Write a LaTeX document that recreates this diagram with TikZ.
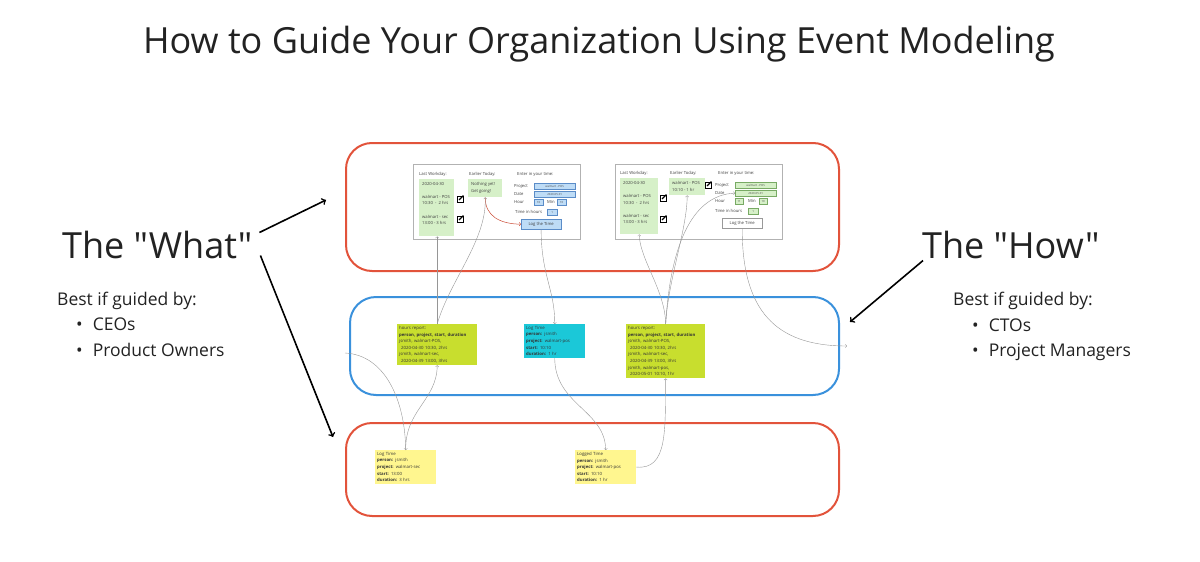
\documentclass[tikz,border=0pt]{standalone}
\usepackage{fontspec}
\setmainfont{Open Sans}[Ligatures=TeXOff]
\usepackage{tikz}
\usetikzlibrary{positioning}

\definecolor{framered}{RGB}{226,83,59}
\definecolor{frameblue}{RGB}{58,145,220}
\definecolor{lime}{RGB}{200,222,46}
\definecolor{cyanbox}{RGB}{27,200,216}
\definecolor{yellowbox}{RGB}{255,246,143}
\definecolor{panelgreen}{RGB}{214,240,200}
\definecolor{fieldblue}{RGB}{190,220,246}
\definecolor{fieldline}{RGB}{90,140,200}
\definecolor{fieldgreen}{RGB}{214,240,200}
\definecolor{fieldgline}{RGB}{120,170,100}
\definecolor{flowgray}{RGB}{150,150,150}
\definecolor{inkgray}{RGB}{34,34,34}

\tikzset{
  frame/.style={rounded corners=26pt, line width=2pt},
  wire/.style={draw=black!30, fill=white, line width=0.7pt},
  ui/.style={anchor=west, inner sep=0pt, font=\fontsize{4.2}{5}\selectfont, text=black!75},
  tiny/.style={inner sep=0pt, font=\fontsize{2.8}{3}\selectfont, text=black!70},
  panel/.style={anchor=north west, inner sep=0pt, fill=panelgreen},
  field/.style={anchor=north west, inner sep=0pt, fill=fieldblue, draw=fieldline, line width=0.3pt},
  gfield/.style={anchor=north west, inner sep=0pt, fill=fieldgreen, draw=fieldgline, line width=0.3pt},
  sticky/.style={anchor=north west, align=left, inner sep=2pt, font=\fontsize{4.3}{6.6}\selectfont, text=black!80},
  flow/.style={->, draw=flowgray, line width=0.4pt},
  big/.style={anchor=base west, inner sep=0pt, text=inkgray, font=\fontsize{36}{40}\selectfont},
  note/.style={anchor=base west, inner sep=0pt, text=inkgray, font=\fontsize{17.5}{20}\selectfont},
}

\begin{document}
\begin{tikzpicture}[x=1pt, y=-1pt]
  \useasboundingbox (0,0) rectangle (1200,562);

  \node[anchor=base, inner sep=0pt, text=inkgray, font=\fontsize{36}{40}\selectfont]
    (title) at (599,53) {How to Guide Your Organization Using Event Modeling};

  \node[big] (what) at (62,258) {The "What"};
  \node[note] (whatbest) at (57,305) {Best if guided by:};
  \node[note] (whatA) at (76,330) {\textbullet\hspace{10pt}CEOs};
  \node[note] (whatB) at (76,356) {\textbullet\hspace{10pt}Product Owners};

  \node[big] (how) at (922,258) {The "How"};
  \node[note] (howbest) at (953,305) {Best if guided by:};
  \node[note] (howA) at (972,331) {\textbullet\hspace{10pt}CTOs};
  \node[note] (howB) at (972,356) {\textbullet\hspace{10pt}Project Managers};

  \draw[framered, frame] (346,143) rectangle (839,271);
  \draw[frameblue, frame] (350,297) rectangle (839,395);
  \draw[framered, frame] (346,423) rectangle (839,516);

  \coordinate (whatup) at (326,200);
  \coordinate (whatdown) at (333,437);
  \coordinate (howdown) at (850,322);
  \draw[->, line width=1.6pt]
    ([shift={(7,-12)}]what.east)
    --
    (whatup);
  \draw[->, line width=1.6pt]
    ([shift={(8,11)}]what.east)
    --
    (whatdown);
  \draw[->, line width=1.6pt]
    ([shift={(1,2)}]how.south west)
    --
    (howdown);

  % first screen
  \node[wire, anchor=north west, minimum width=167, minimum height=75] (lw) at (413,164) {};
  \node[ui] (lwLast) at (419,174) {Last Workday:};
  \node[ui] (lwEarly) at (469,174) {Earlier Today:};
  \node[ui] (lwEnter) at (517,174) {Enter in your time:};
  \node[panel, minimum width=35, minimum height=57] (lwPanelA) at (419,179) {};
  \node[ui] (lwA1) at (422,184) {2020-04-30};
  \node[ui] (lwA2) at (422,197) {walmart - POS};
  \node[ui] (lwA3) at (422,203) {10:30 \ - \ 2 hrs};
  \node[ui] (lwA4) at (422,217) {walmart - sec};
  \node[ui] (lwA5) at (422,223) {13:00 - 3 hrs};
  \node[panel, minimum width=34, minimum height=18] (lwPanelB) at (468,179) {};
  \node[ui] (lwB1) at (471,184) {Nothing yet!};
  \node[ui] (lwB2) at (471,191) {Get going!};
  \node[ui] (lwProj) at (514,186) {Project};
  \node[ui] (lwDateL) at (514,194) {Date};
  \node[ui] (lwHourL) at (514,202) {Hour};
  \node[ui] (lwMinL) at (547,202) {Min};
  \node[ui] (lwTime) at (515,212) {Time in hours};
  \node[field, minimum width=41, minimum height=6] (lwProjF) at (534,183) {};
  \node[tiny] at (lwProjF) {walmart - POS};
  \node[field, minimum width=41, minimum height=6] (lwDate) at (534,191) {};
  \node[tiny] at (lwDate) {2020-05-01};
  \node[field, minimum width=9, minimum height=6] (lwHour) at (534,199) {};
  \node[tiny] at (lwHour) {10};
  \node[field, minimum width=9, minimum height=6] (lwMin) at (557,199) {};
  \node[tiny] at (lwMin) {10};
  \node[field, minimum width=10, minimum height=6] (lwHours) at (547,209) {};
  \node[tiny] at (lwHours) {1};
  \node[field, minimum width=40, minimum height=10] (lwButton) at (521,219) {};
  \node[ui, anchor=center] at (lwButton) {Log the Time};

  % second screen
  \node[wire, anchor=north west, minimum width=167, minimum height=75] (rw) at (615,164) {};
  \node[ui] (rwLast) at (620,173) {Last Workday:};
  \node[ui] (rwEarly) at (670,173) {Earlier Today:};
  \node[ui] (rwEnter) at (718,173) {Enter in your time:};
  \node[panel, minimum width=38, minimum height=56] (rwPanelA) at (620,178) {};
  \node[ui] (rwA1) at (623,183) {2020-04-30};
  \node[ui] (rwA2) at (623,196) {walmart - POS};
  \node[ui] (rwA3) at (623,203) {10:30 \ - \ 2 hrs};
  \node[ui] (rwA4) at (623,216) {walmart - sec};
  \node[ui] (rwA5) at (623,222) {13:00 - 3 hrs};
  \node[panel, minimum width=36, minimum height=17] (rwPanelB) at (669,178) {};
  \node[ui] (rwB1) at (672,183) {walmart - POS};
  \node[ui] (rwB2) at (672,190) {10:10 - 1 hr};
  \node[ui] (rwProj) at (715,185) {Project};
  \node[ui] (rwDateL) at (715,193) {Date};
  \node[ui] (rwHourL) at (715,201) {Hour};
  \node[ui] (rwMinL) at (748,201) {Min};
  \node[ui] (rwTime) at (715,211) {Time in hours};
  \node[gfield, minimum width=41, minimum height=6] (rwProjF) at (735,182) {};
  \node[tiny] at (rwProjF) {walmart - POS};
  \node[gfield, minimum width=41, minimum height=6] (rwDate) at (735,190) {};
  \node[tiny] at (rwDate) {2020-05-01};
  \node[gfield, minimum width=8, minimum height=6] (rwHour) at (735,198) {};
  \node[tiny] at (rwHour) {11};
  \node[gfield, minimum width=8, minimum height=6] (rwMin) at (759,198) {};
  \node[tiny] at (rwMin) {10};
  \node[gfield, minimum width=10, minimum height=6] (rwHours) at (748,208) {};
  \node[tiny] at (rwHours) {1};
  \node[anchor=north west, inner sep=0pt, draw=black!40, fill=white, line width=0.4pt,
    minimum width=40, minimum height=10] (rwButton) at (722,218) {};
  \node[ui, anchor=center] at (rwButton) {Log the Time};

  \foreach \x/\y in {460/199, 460/219, 663/198, 663/219, 708/185} {
    \draw[line width=0.6pt] (\x-2.8,\y-2.8) rectangle (\x+2.8,\y+2.8);
    \draw[line width=1.3pt] (\x-1,\y+1) -- (\x+3.4,\y-3.4);
  }

  \draw[->, draw=framered!90!black, line width=0.5pt]
    (lwPanelB.south)
    .. controls (485,216) and (500,224) ..
    (lwButton.west);

  % stickies
  \node[sticky, fill=lime, text width=76pt] (hrA) at (397,324)
    {hours report:\\
     \textbf{person, project, start, duration}\\
     jsmith, walmart-POS,\\
     \hspace{2pt}2020-04-30 10:30, 2hrs\\
     jsmith, walmart-sec,\\
     \hspace{2pt}2020-04-39 13:00, 3hrs};
  \node[sticky, fill=cyanbox, text width=57pt] (logcmd) at (524,324)
    {Log Time\\
     \textbf{person:} jsmith\\
     \textbf{project:} walmart-pos\\
     \textbf{start:} 10:10\\
     \textbf{duration:} 1 hr};
  \node[sticky, fill=lime, text width=75pt] (hrB) at (626,324)
    {hours report:\\
     \textbf{person, project, start, duration}\\
     jsmith, walmart-POS,\\
     \hspace{2pt}2020-04-30 10:30, 2hrs\\
     jsmith, walmart-sec,\\
     \hspace{2pt}2020-04-39 13:00, 3hrs\\
     jsmith, walmart-pos,\\
     \hspace{2pt}2020-05-01 10:10, 1hr};
  \node[sticky, fill=yellowbox, text width=57pt] (evA) at (375,450)
    {Log Time\\
     \textbf{person:} jsmith\\
     \textbf{project:} walmart-sec\\
     \textbf{start:} 13:00\\
     \textbf{duration:} 3 hrs};
  \node[sticky, fill=yellowbox, text width=57pt] (evB) at (575,450)
    {Logged Time\\
     \textbf{person:} jsmith\\
     \textbf{project:} walmart-pos\\
     \textbf{start:} 10:10\\
     \textbf{duration:} 1 hr};

  \coordinate (extin) at (345,353);
  \coordinate (extout) at (847,346);

  \draw[flow]
    (hrA.north)
    --
    (lwPanelA.south -| hrA.north);
  \draw[flow]
    (hrA.north)
    .. controls (450,280) and (487,240) ..
    (lwPanelB.south);
  \draw[flow]
    (lwButton.south)
    .. controls (541,275) and (555,290) ..
    (logcmd.north);
  \draw[flow]
    (logcmd.south)
    .. controls (555,405) and (605,410) ..
    (evB.north);
  \draw[flow]
    (evB.east)
    .. controls (668,470) and (665,430) ..
    (hrB.south);
  \draw[flow]
    (evA.north)
    .. controls (405,410) and (437,400) ..
    (hrA.south);
  \draw[flow]
    (extin)
    .. controls (385,355) and (405,400) ..
    (evA.north);
  \draw[flow]
    (hrB.north)
    .. controls (665,290) and (640,260) ..
    (rwPanelA.south);
  \draw[flow]
    (hrB.north)
    .. controls (668,280) and (687,230) ..
    (rwPanelB.south);
  \draw[flow]
    (hrB.north)
    .. controls (670,250) and (690,195) ..
    (rwDate.west);
  \draw[flow]
    (rwButton.south)
    .. controls (742,310) and (775,346) ..
    (extout);
\end{tikzpicture}
\end{document}
